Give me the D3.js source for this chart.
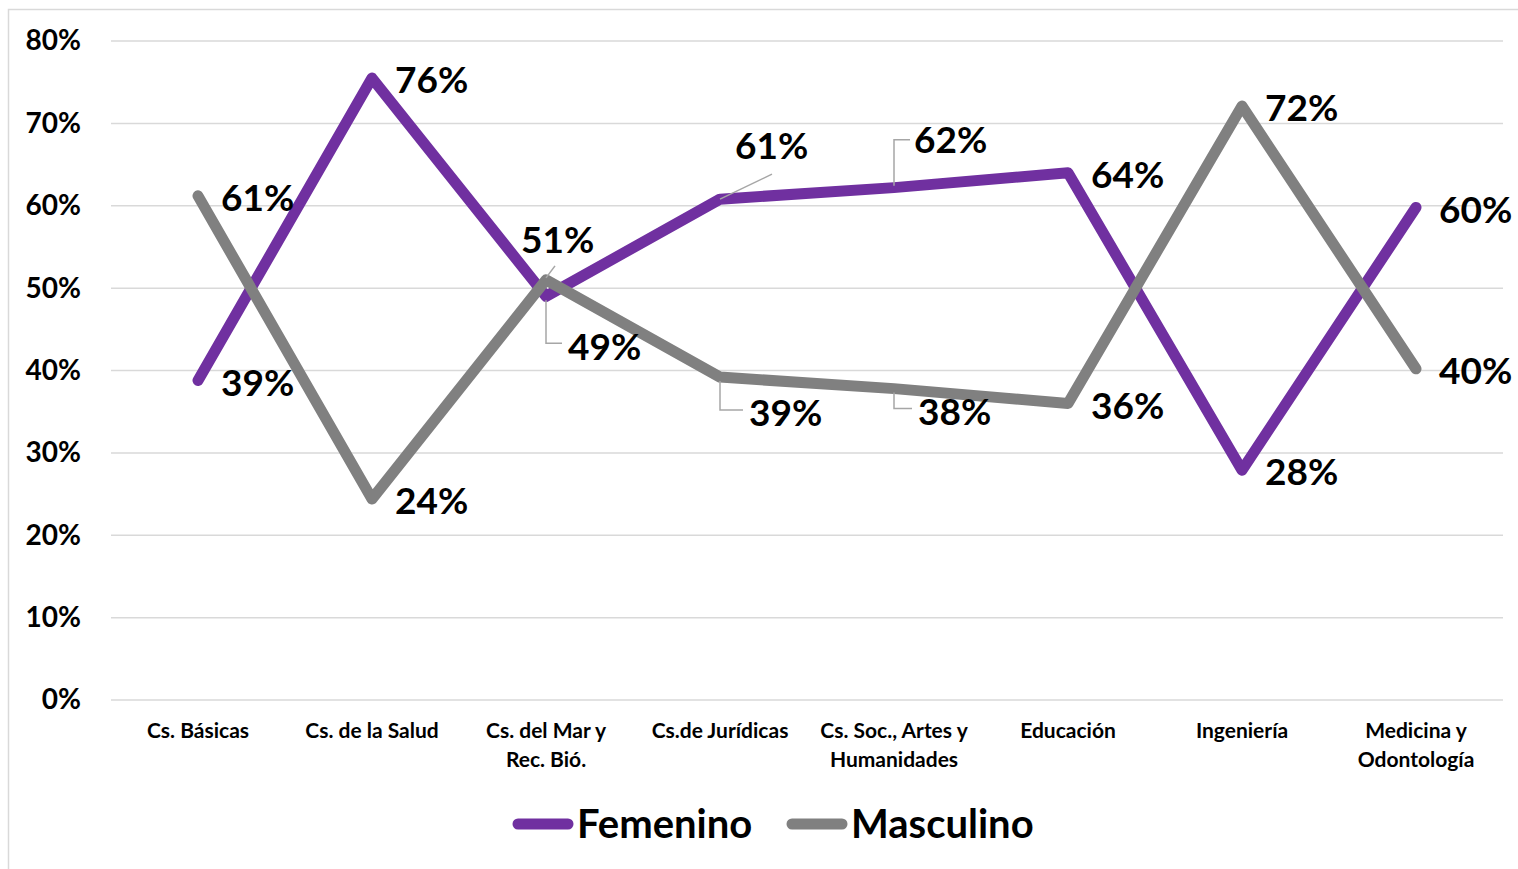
<!DOCTYPE html>
<html><head><meta charset="utf-8">
<script src="https://cdn.jsdelivr.net/npm/d3@7"></script>
<style>
html,body{margin:0;padding:0;background:#fff;}
svg{display:block;font-family:Lato,"Open Sans",sans-serif;}
</style></head>
<body>
<svg id="chart" width="1518" height="869"></svg>
<script>
const categories = [
  ["Cs. Básicas"],
  ["Cs. de la Salud"],
  ["Cs. del Mar y", "Rec. Bió."],
  ["Cs.de Jurídicas"],
  ["Cs. Soc., Artes y", "Humanidades"],
  ["Educación"],
  ["Ingeniería"],
  ["Medicina y", "Odontología"]
];
const femenino = [0.388, 0.755, 0.49, 0.608, 0.622, 0.64, 0.279, 0.598];
const masculino = [0.612, 0.244, 0.51, 0.392, 0.378, 0.36, 0.721, 0.402];
const yTicks = [0, 0.1, 0.2, 0.3, 0.4, 0.5, 0.6, 0.7, 0.8];
const seriesNames = ["Femenino", "Masculino"];
const seriesColors = ["#7030A0", "#808080"];

// label placement: "right" default; others have offsets & leader types
const labelPlacement = {
  Femenino: {2: {dx: 22, dy: 50, leader: "elbow"}, 3: {dx: 15, dy: -53, leader: "diag"}, 4: {dx: 20, dy: -48, leader: "elbowUp"}},
  Masculino: {2: {dx: -25, dy: -40, leader: "diag2"}, 3: {dx: 29, dy: 36, leader: "elbow"}, 4: {dx: 24, dy: 23, leader: "elbow"}}
};

const svg = d3.select("#chart");
const W = 1518, H = 869;
const m = {left: 111, right: 15, top: 41, bottom: 169};

// outer border
svg.append("path").attr("d", `M8.5,${H}V9.5H${W}`).attr("fill", "none").attr("stroke", "#d9d9d9").attr("stroke-width", 1.5);

const x = d3.scaleBand().domain(d3.range(categories.length)).range([m.left, W - m.right]);
const y = d3.scaleLinear().domain([0, 0.8]).range([H - m.bottom, m.top]);
const fmt = d3.format(".0%");

// grid
svg.append("g").selectAll("line").data(yTicks).join("line")
  .attr("x1", m.left).attr("x2", W - m.right)
  .attr("y1", d => y(d)).attr("y2", d => y(d))
  .attr("stroke", "#d9d9d9").attr("stroke-width", 1.5);

// y axis
const yAxis = svg.append("g").attr("transform", `translate(${m.left},0)`)
  .call(d3.axisLeft(y).tickValues(yTicks).tickFormat(fmt).tickSize(0).tickPadding(30));
yAxis.select(".domain").remove();
yAxis.selectAll("text").attr("font-size", 28).attr("font-weight", 700).attr("fill", "#000").attr("font-family", "Lato");

// x axis
const xAxis = svg.append("g").attr("transform", `translate(0,${H - m.bottom})`)
  .call(d3.axisBottom(x).tickSize(0).tickFormat(""));
xAxis.select(".domain").remove();
xAxis.selectAll(".tick").each(function(d) {
  const t = d3.select(this).append("text").attr("fill", "#000").attr("font-size", 21).attr("font-weight", 700)
    .attr("text-anchor", "middle").attr("font-family", "Lato");
  categories[d].forEach((s, i) => t.append("tspan").attr("x", 0).attr("y", 38 + i * 29).text(s));
});

const cx = i => x(i) + x.bandwidth() / 2;
const line = d3.line().x((d, i) => cx(i)).y(d => y(d));

const allSeries = [femenino, masculino];
[0, 1].forEach(s => {
  svg.append("path").datum(allSeries[s]).attr("d", line)
    .attr("fill", "none").attr("stroke", seriesColors[s]).attr("stroke-width", 11)
    .attr("stroke-linejoin", "round").attr("stroke-linecap", "round");
});

// labels
const lbl = svg.append("g");
[0, 1].forEach(s => {
  const name = seriesNames[s];
  allSeries[s].forEach((v, i) => {
    const px = cx(i), py = y(v);
    const p = labelPlacement[name][i];
    let tx, ty;
    if (!p) { tx = px + 23; ty = py + 2; }
    else {
      tx = px + p.dx; ty = py + p.dy;
      let d;
      if (p.leader === "elbow") d = `M${px},${py + 4}V${ty - 3}H${tx - 6}`;
      else if (p.leader === "elbowUp") d = `M${px},${py - 2}V${ty}H${tx - 4}`;
      else if (p.leader === "diag") d = `M${px},${py}L${px + 52},${py - 25}`;
      else d = `M${px},${py - 2}L${px + 9},${py - 14}`;
      lbl.append("path").attr("d", d).attr("fill", "none").attr("stroke", "#a6a6a6").attr("stroke-width", 1.5);
    }
    lbl.append("text").attr("x", tx).attr("y", ty).attr("dy", "0.36em")
      .attr("font-size", 37).attr("font-weight", 700).attr("fill", "#000").attr("font-family", "Lato")
      .text(fmt(v));
  });
});

// legend
const leg = svg.append("g");
const legItems = [{x: 518, name: "Femenino"}, {x: 792, name: "Masculino"}];
legItems.forEach((it, s) => {
  leg.append("line").attr("x1", it.x).attr("x2", it.x + 50).attr("y1", 824).attr("y2", 824)
    .attr("stroke", seriesColors[s]).attr("stroke-width", 11).attr("stroke-linecap", "round");
  leg.append("text").attr("x", it.x + 59).attr("y", 824).attr("dy", "0.36em")
    .attr("font-size", 40).attr("font-weight", 700).attr("fill", "#000").attr("font-family", "Lato").text(it.name);
});
</script>
</body></html>
